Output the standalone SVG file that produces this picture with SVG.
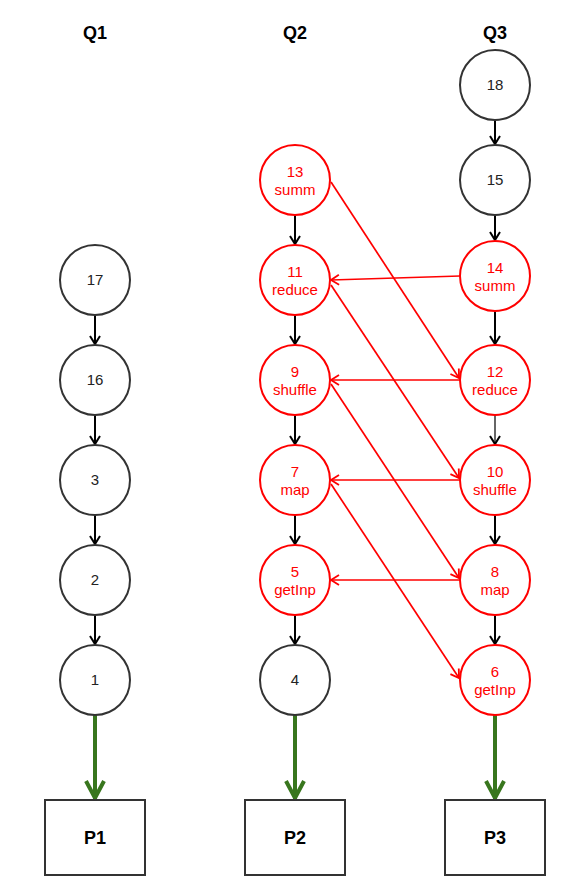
<svg xmlns="http://www.w3.org/2000/svg" width="571" height="895" viewBox="0 0 571 895">
<defs>
<style>
.bg{fill:#fff}
.nb{fill:#fff;stroke:#333;stroke-width:2}
.nr{fill:#fff;stroke:#ff0000;stroke-width:2}
.tb{font-family:"Liberation Sans",Arial,sans-serif;font-size:15px;fill:#222;text-anchor:middle}
.tr{font-family:"Liberation Sans",Arial,sans-serif;font-size:15px;fill:#ff0000;text-anchor:middle}
.hd{font-family:"Liberation Sans",Arial,sans-serif;font-size:18px;font-weight:bold;fill:#000;text-anchor:middle}
.box{fill:#fff;stroke:#333;stroke-width:2}
.eb{stroke:#000;stroke-width:2;fill:none;marker-end:url(#ab)}
.eg{stroke:#666;stroke-width:2;fill:none;marker-end:url(#ab)}
.er{stroke:#ff0000;stroke-width:1.7;fill:none;marker-end:url(#ar)}
.ep{stroke:#38761d;stroke-width:4;fill:none;marker-end:url(#ap)}
</style>
<marker id="ab" markerUnits="userSpaceOnUse" viewBox="-12 -8 14 16" markerWidth="14" markerHeight="16" refX="0" refY="0" orient="auto">
<path d="M-8,-5 L0,0 L-8,5" fill="none" stroke="#000" stroke-width="2"/>
</marker>
<marker id="ar" markerUnits="userSpaceOnUse" viewBox="-12 -8 14 16" markerWidth="14" markerHeight="16" refX="0" refY="0" orient="auto">
<path d="M-8,-5 L0,0 L-8,5" fill="none" stroke="#ff0000" stroke-width="1.8"/>
</marker>
<marker id="ap" markerUnits="userSpaceOnUse" viewBox="-22 -12 26 24" markerWidth="26" markerHeight="24" refX="0" refY="0" orient="auto">
<path d="M-18,-9 L-1,0 L-18,9" fill="none" stroke="#38761d" stroke-width="4"/>
</marker>
</defs>
<rect class="bg" x="0" y="0" width="571" height="895"/>

<g id="headers">
<text class="hd" x="95" y="39">Q1</text>
<text class="hd" x="295" y="39">Q2</text>
<text class="hd" x="495" y="39">Q3</text>
</g>

<g id="connectors">
<line class="eb" x1="95" y1="315" x2="95" y2="344"/>
<line class="eb" x1="95" y1="415" x2="95" y2="444"/>
<line class="eb" x1="95" y1="515" x2="95" y2="544"/>
<line class="eb" x1="95" y1="615" x2="95" y2="644"/>
<line class="eb" x1="295" y1="215" x2="295" y2="244"/>
<line class="eb" x1="295" y1="315" x2="295" y2="344"/>
<line class="eb" x1="295" y1="415" x2="295" y2="444"/>
<line class="eb" x1="295" y1="515" x2="295" y2="544"/>
<line class="eb" x1="295" y1="615" x2="295" y2="644"/>
<line class="eb" x1="495" y1="120" x2="495" y2="144"/>
<line class="eb" x1="495" y1="215" x2="495" y2="240"/>
<line class="eb" x1="495" y1="311" x2="495" y2="344"/>
<line class="eg" x1="495" y1="415" x2="495" y2="444"/>
<line class="eb" x1="495" y1="515" x2="495" y2="544"/>
<line class="eb" x1="495" y1="615" x2="495" y2="644"/>
<line class="er" x1="460" y1="276" x2="331" y2="280"/>
<line class="er" x1="331" y1="182" x2="459" y2="378"/>
<line class="er" x1="460" y1="380" x2="331" y2="380"/>
<line class="er" x1="331" y1="285" x2="459" y2="478"/>
<line class="er" x1="460" y1="480" x2="331" y2="480"/>
<line class="er" x1="331" y1="384" x2="459" y2="578"/>
<line class="er" x1="460" y1="580" x2="331" y2="580"/>
<line class="er" x1="331" y1="484" x2="459" y2="678"/>
<line class="ep" x1="95" y1="715" x2="95" y2="799"/>
<line class="ep" x1="295" y1="715" x2="295" y2="799"/>
<line class="ep" x1="495" y1="715" x2="495" y2="799"/>
</g>

<g id="n17"><circle class="nb" cx="95" cy="280" r="35"/><text class="tb" x="95" y="285">17</text></g>
<g id="n16"><circle class="nb" cx="95" cy="380" r="35"/><text class="tb" x="95" y="385">16</text></g>
<g id="n3"><circle class="nb" cx="95" cy="480" r="35"/><text class="tb" x="95" y="485">3</text></g>
<g id="n2"><circle class="nb" cx="95" cy="580" r="35"/><text class="tb" x="95" y="585">2</text></g>
<g id="n1"><circle class="nb" cx="95" cy="680" r="35"/><text class="tb" x="95" y="685">1</text></g>

<g id="n13"><circle class="nr" cx="295" cy="180" r="35"/><text class="tr" x="295" y="177">13</text><text class="tr" x="295" y="195">summ</text></g>
<g id="n11"><circle class="nr" cx="295" cy="280" r="35"/><text class="tr" x="295" y="277">11</text><text class="tr" x="295" y="295">reduce</text></g>
<g id="n9"><circle class="nr" cx="295" cy="380" r="35"/><text class="tr" x="295" y="377">9</text><text class="tr" x="295" y="395">shuffle</text></g>
<g id="n7"><circle class="nr" cx="295" cy="480" r="35"/><text class="tr" x="295" y="477">7</text><text class="tr" x="295" y="495">map</text></g>
<g id="n5"><circle class="nr" cx="295" cy="580" r="35"/><text class="tr" x="295" y="577">5</text><text class="tr" x="295" y="595">getInp</text></g>
<g id="n4"><circle class="nb" cx="295" cy="680" r="35"/><text class="tb" x="295" y="685">4</text></g>

<g id="n18"><circle class="nb" cx="495" cy="85" r="35"/><text class="tb" x="495" y="90">18</text></g>
<g id="n15"><circle class="nb" cx="495" cy="180" r="35"/><text class="tb" x="495" y="185">15</text></g>
<g id="n14"><circle class="nr" cx="495" cy="276" r="35"/><text class="tr" x="495" y="273">14</text><text class="tr" x="495" y="291">summ</text></g>
<g id="n12"><circle class="nr" cx="495" cy="380" r="35"/><text class="tr" x="495" y="377">12</text><text class="tr" x="495" y="395">reduce</text></g>
<g id="n10"><circle class="nr" cx="495" cy="480" r="35"/><text class="tr" x="495" y="477">10</text><text class="tr" x="495" y="495">shuffle</text></g>
<g id="n8"><circle class="nr" cx="495" cy="580" r="35"/><text class="tr" x="495" y="577">8</text><text class="tr" x="495" y="595">map</text></g>
<g id="n6"><circle class="nr" cx="495" cy="680" r="35"/><text class="tr" x="495" y="677">6</text><text class="tr" x="495" y="695">getInp</text></g>

<g id="P1"><rect class="box" x="45" y="800" width="100" height="75"/><text class="hd" x="95" y="844">P1</text></g>
<g id="P2"><rect class="box" x="245" y="800" width="100" height="75"/><text class="hd" x="295" y="844">P2</text></g>
<g id="P3"><rect class="box" x="445" y="800" width="100" height="75"/><text class="hd" x="495" y="844">P3</text></g>
</svg>
